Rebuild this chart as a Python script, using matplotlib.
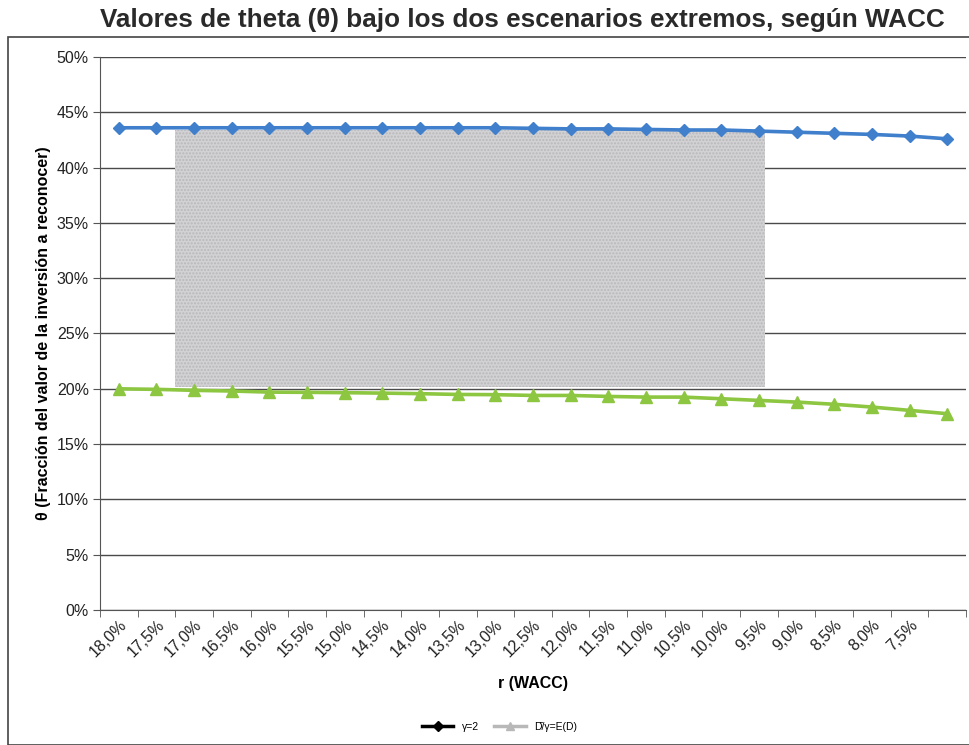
import matplotlib
matplotlib.use("Agg")
import matplotlib.pyplot as plt
from matplotlib.lines import Line2D
from matplotlib.patches import Rectangle
from matplotlib.ticker import FuncFormatter, FixedLocator

plt.rcParams['font.family'] = ['Liberation Sans', 'DejaVu Sans']

# Discount rate (WACC), %
r_wacc = [18.0, 17.5, 17.0, 16.5, 16.0, 15.5, 15.0, 14.5, 14.0, 13.5, 13.0, 12.5,
          12.0, 11.5, 11.0, 10.5, 10.0, 9.5, 9.0, 8.5, 8.0, 7.5, 7.0]
tick_labels = ["18,0%", "17,5%", "17,0%", "16,5%", "16,0%", "15,5%", "15,0%", "14,5%",
               "14,0%", "13,5%", "13,0%", "12,5%", "12,0%", "11,5%", "11,0%", "10,5%",
               "10,0%", "9,5%", "9,0%", "8,5%", "8,0%", "7,5%", ""]

# theta (%) for each scenario
theta_gamma2 = [43.6, 43.6, 43.6, 43.6, 43.6, 43.6, 43.6, 43.6, 43.6, 43.6, 43.6, 43.55,
                43.5, 43.5, 43.45, 43.4, 43.4, 43.3, 43.2, 43.1, 43.0, 42.85, 42.6]
theta_ed = [20.0, 19.95, 19.86, 19.8, 19.7, 19.68, 19.65, 19.61, 19.56, 19.49, 19.47, 19.4,
            19.4, 19.31, 19.25, 19.25, 19.1, 18.95, 18.8, 18.6, 18.35, 18.05, 17.75]

series_names = ["γ=2", "D̄/γ=E(D)"]

# shaded band between the two scenarios (category index / %)
band_x = (1.5, 17.15)
band_y = (20.2, 43.4)

fig = plt.figure(figsize=(9.7, 7.45), dpi=100)
ax = fig.add_axes([0.1031, 0.1812, 0.8928, 0.7423])

x = list(range(len(r_wacc)))

ax.add_patch(Rectangle((band_x[0], band_y[0]), band_x[1] - band_x[0], band_y[1] - band_y[0],
                       facecolor='#d2d2d4', edgecolor='#b8b8bb', hatch='.....',
                       linewidth=0, zorder=1))

ax.plot(x, theta_gamma2, color='#3f7fcc', linewidth=2.6, marker='D', markersize=6,
        zorder=3, clip_on=False)
ax.plot(x, theta_ed, color='#8dc641', linewidth=2.6, marker='^', markersize=8,
        zorder=3, clip_on=False)

ax.set_xlim(-0.5, len(r_wacc) - 0.5)
ax.set_ylim(0, 50)
ax.set_yticks(range(0, 51, 5))
ax.yaxis.set_major_formatter(FuncFormatter(lambda v, p: f"{int(v)}%"))
ax.grid(axis='y', color='#4a4a4a', linewidth=1.0, zorder=0)
ax.set_axisbelow(True)

ax.set_xticks(x)
ax.set_xticklabels(tick_labels, rotation=45, ha='right', rotation_mode='anchor',
                   fontsize=11.5, color='#222222')
ax.xaxis.set_minor_locator(FixedLocator([i - 0.5 for i in range(len(r_wacc) + 1)]))
ax.tick_params(axis='x', which='major', length=0, pad=5)
ax.tick_params(axis='x', which='minor', length=5, color='#555555')
ax.tick_params(axis='y', length=5, color='#555555', labelsize=11.5, labelcolor='#222222', pad=3)

for s in ['top', 'right']:
    ax.spines[s].set_visible(False)
for s in ['left', 'bottom']:
    ax.spines[s].set_color('#555555')

ax.set_xlabel("r (WACC)", fontsize=11.5, fontweight='bold', labelpad=12)
ax.set_ylabel("θ (Fracción del valor de la inversión a reconocer)", fontsize=11.5,
              fontweight='bold', labelpad=4)

fig.text(0.539, 0.973, "Valores de theta (θ) bajo los dos escenarios extremos, según WACC",
         ha='center', va='center', fontsize=18.8, fontweight='bold', color='#2a2a2a')

handles = [Line2D([], [], color='black', linewidth=2.5, marker='D', markersize=5),
           Line2D([], [], color='#b8b8b8', linewidth=2.5, marker='^', markersize=6)]
fig.legend(handles, series_names, loc='center', bbox_to_anchor=(0.515, 0.024), ncol=2,
           frameon=False, fontsize=7.5, handlelength=3, columnspacing=1.5)

# chart frame
fig.add_artist(Rectangle((8 / 970, 0), 1.0, 1 - 37 / 745, transform=fig.transFigure,
                         fill=False, edgecolor='#444444', linewidth=1.2))

fig.savefig("out.png", dpi=100)
